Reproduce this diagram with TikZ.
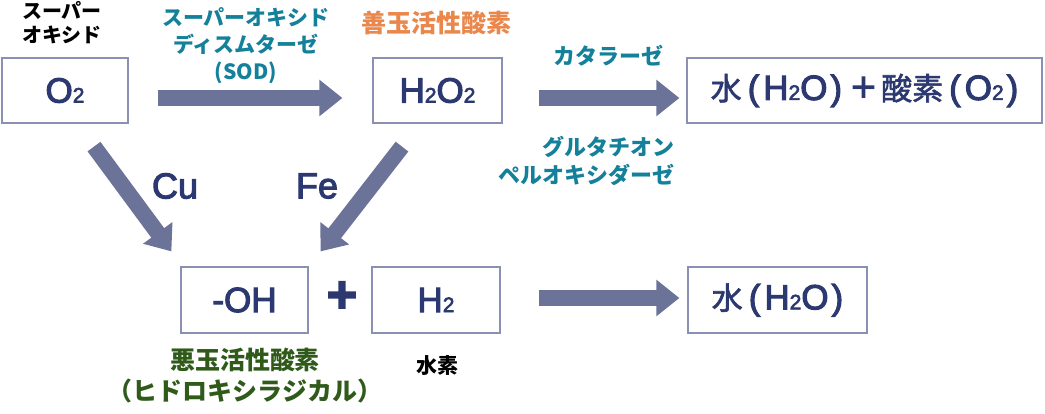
\documentclass[tikz,border=0pt]{standalone}
\usepackage{fontspec}
\setmainfont[FakeBold=3]{Liberation Sans}
\newfontfamily\jp{Noto Sans CJK JP}
\newfontfamily\jpm[FakeBold=2]{Noto Sans CJK JP}
\usetikzlibrary{arrows.meta}
\definecolor{navy}{HTML}{2C3870}
\definecolor{boxc}{HTML}{8A90B4}
\definecolor{arrowc}{HTML}{6B7399}
\definecolor{teal}{HTML}{14809A}
\definecolor{orng}{HTML}{E9874C}
\definecolor{dgreen}{HTML}{2F5A1A}
\newcommand{\sbs}[1]{{\fontsize{21}{21}\selectfont #1}}
\newcommand{\kj}[1]{{\jpm\fontsize{31}{31}\selectfont #1}}
\newcommand{\lp}{\hspace{6pt}(\hspace{4pt}}
\newcommand{\rp}{\hspace{3pt})\hspace{6pt}}
\tikzset{
  chem/.style={draw=boxc, line width=1.2pt, text=navy, inner sep=0pt,
    font=\fontsize{35}{35}\selectfont},
  bigarrow/.style={draw=arrowc, line width=16pt, -{Triangle[length=23pt,width=35pt]}},
  lab/.style={inner sep=0pt, align=center, font=\jp\bfseries\fontsize{21}{27}\selectfont},
  metal/.style={inner sep=0pt, text=navy, font=\fontsize{36}{36}\selectfont}
}
\begin{document}
\begin{tikzpicture}[x=1pt,y=-1pt]
\useasboundingbox (0,0) rectangle (1045,413);
% boxes
\node[chem, minimum width=126pt, minimum height=65pt] (o2) at (65,90.5) {O\sbs{2}};
\node[chem, minimum width=129pt, minimum height=65pt] (h2o2) at (437.5,90.5) {H\sbs{2}O\sbs{2}};
\node[chem, minimum width=355pt, minimum height=65pt] (prod1) at (864.5,90.5)
  {\kj{水}\lp H\sbs{2}O\rp{\jp\bfseries\fontsize{31}{31}\selectfont ＋}\hspace{2pt}\kj{酸素}\lp O\sbs{2}\rp};
\node[chem, minimum width=127pt, minimum height=66pt] (oh) at (244.5,300) {-OH};
\node[chem, minimum width=128pt, minimum height=66pt] (h2) at (436,300) {H\sbs{2}};
\node[chem, minimum width=179pt, minimum height=66pt] (prod2) at (777.5,300)
  {\kj{水}\lp H\sbs{2}O\rp};
% labels
\node[lab, font=\jp\bfseries\fontsize{20}{23.5}\selectfont] (lsup) at (62,22.5) {スーパー\\オキシド};
\node[lab, text=teal] (lsod) at (246,45.5) {スーパーオキシド\\ディスムターゼ\\(SOD)};
\node[lab, text=orng, font=\jp\bfseries\fontsize{25}{25}\selectfont] (lgood) at (436,22.5) {善玉活性酸素};
\node[lab, text=teal, font=\jp\bfseries\fontsize{22}{22}\selectfont] (lcat) at (608,56) {カタラーゼ};
\node[lab, text=teal, align=right, anchor=east, font=\jp\bfseries\fontsize{22}{28}\selectfont] (lgpx) at (675,161) {グルタチオン\\ペルオキシダーゼ};
\node[metal] (lcu) at (175,186) {Cu};
\node[metal] (lfe) at (317,186) {Fe};
\node[inner sep=0pt, text=navy, font=\bfseries\fontsize{52}{52}\selectfont] (lplus) at (342,297) {+};
\node[lab, text=dgreen, font=\jp\bfseries\fontsize{25}{31}\selectfont] (lbad) at (245,376) {悪玉活性酸素\\（ヒドロキシラジカル）};
\node[lab, font=\jp\bfseries\fontsize{21}{21}\selectfont] (lh2) at (437,366) {水素};
% arrows
\draw[bigarrow] ([xshift=29pt,yshift=-7.5pt]o2.east) -- ([xshift=-30pt,yshift=-7.5pt]h2o2.west);
\draw[bigarrow] ([xshift=36pt,yshift=-7.5pt]h2o2.east) -- ([xshift=-7pt,yshift=-7.5pt]prod1.west);
\draw[bigarrow] ([xshift=38pt,yshift=2pt]h2.east) -- ([xshift=-8pt,yshift=2pt]prod2.west);
\draw[bigarrow] ([xshift=29pt,yshift=-23pt]o2.south) -- ([xshift=-9pt,yshift=15pt]oh.north west);
\draw[bigarrow] ([xshift=-35.5pt,yshift=-23pt]h2o2.south) -- ([xshift=12pt,yshift=15pt]oh.north east);
\end{tikzpicture}
\end{document}
